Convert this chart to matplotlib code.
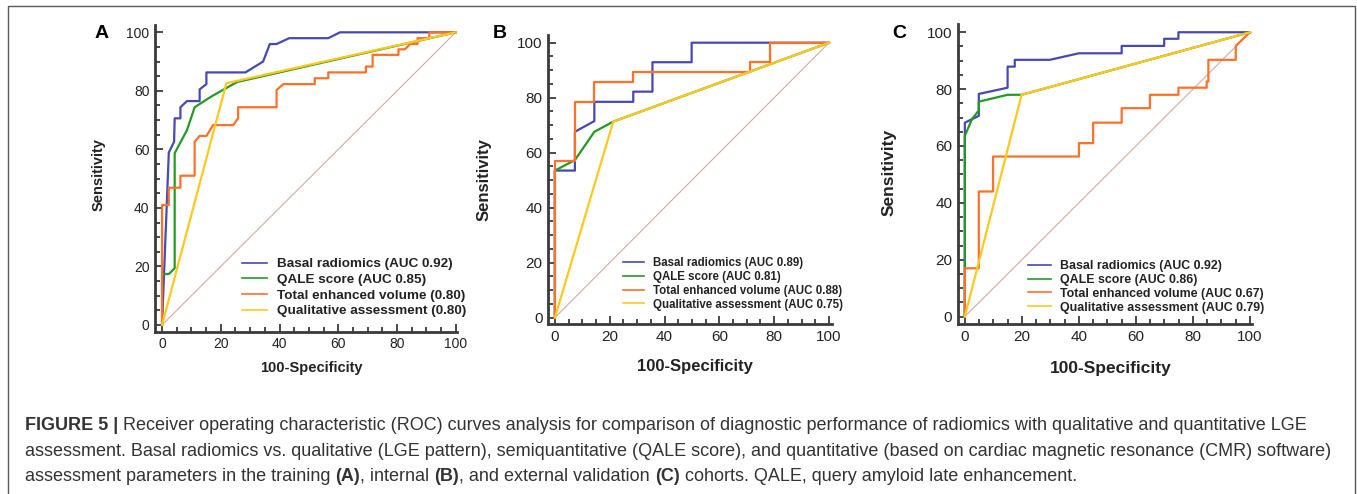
import matplotlib
matplotlib.use("Agg")
import matplotlib.pyplot as plt
from matplotlib.patches import Rectangle
from matplotlib.ticker import MultipleLocator

plt.rcParams['font.family'] = ['Liberation Sans', 'DejaVu Sans']

W, H = 1357, 494

# ---- data (100-specificity, sensitivity) ----
a_basal_x = [0, 2.3, 4.1, 4.3, 6.25, 6.25, 8.5, 12.8, 12.8, 15.1, 15.1, 28.4, 34.4, 36.7, 39, 43.3, 56.6, 60.6, 100]
a_basal_y = [0, 58.9, 62.6, 70.6, 70.6, 74.4, 76.5, 76.5, 80.5, 82.3, 86.3, 86.3, 90, 96, 96, 98, 98, 100, 100]
a_qale_x = [0, 0, 2.3, 4.3, 4.3, 8.5, 11.1, 17, 25.5, 100]
a_qale_y = [0, 17.4, 17.4, 19.4, 58.7, 66.6, 74.4, 78.2, 83.0, 100]
a_tev_x = [0, 0, 2.3, 2.3, 6.25, 6.25, 11.1, 11.1, 12.8, 15.1, 17.4, 24.2, 25.9, 25.9, 39, 39, 41.3, 52, 52,
           56.6, 56.6, 69.4, 69.4, 71.7, 71.7, 80.5, 80.5, 82.7, 84.5, 87, 87, 91, 91, 100]
a_tev_y = [0, 41, 41, 46.9, 46.9, 51, 51, 62.6, 64.6, 64.6, 68.3, 68.3, 70.6, 74.4, 74.4, 80.3, 82.3, 82.3, 84.3,
           84.3, 86.3, 86.3, 88.3, 88.3, 92.3, 92.3, 94.2, 94.2, 96, 96, 98, 98, 100, 100]
a_qual_x = [0, 21.9, 100]
a_qual_y = [0, 82.6, 100]

b_basal_x = [0, 0, 7.3, 7.3, 14.4, 14.4, 28.6, 28.6, 35.6, 35.6, 49.9, 49.9, 100]
b_basal_y = [0, 53.5, 53.5, 67.6, 71.5, 78.5, 78.5, 82.2, 82.2, 92.9, 92.9, 100, 100]
b_qale_x = [0, 0, 7.3, 14.4, 21.3, 100]
b_qale_y = [0, 53.5, 57.3, 67.6, 71.3, 100]
b_tev_x = [0, 0, 7.3, 7.3, 14.4, 14.4, 28.6, 28.6, 71.2, 71.2, 78.5, 78.5, 100]
b_tev_y = [0, 57.1, 57.1, 78.5, 78.5, 85.7, 85.7, 89.3, 89.3, 92.9, 92.9, 100, 100]
b_qual_x = [0, 21.3, 100]
b_qual_y = [0, 71.3, 100]

c_basal_x = [0, 0, 4.9, 4.9, 15, 15, 17.5, 17.5, 29.8, 40, 55, 55, 69.9, 69.9, 74.9, 74.9, 100]
c_basal_y = [0, 68.2, 70.6, 78.3, 80.5, 87.9, 87.9, 90.3, 90.3, 92.6, 92.6, 95.2, 95.2, 97.7, 97.7, 100, 100]
c_qale_x = [0, 0, 2.5, 4.9, 4.9, 15, 19.9, 100]
c_qale_y = [0, 63.5, 69.5, 72.5, 75.6, 78, 78, 100]
c_tev_x = [0, 0, 4.9, 4.9, 9.9, 9.9, 40, 40, 45, 45, 55, 55, 64.9, 64.9, 74.9, 74.9, 84.8, 84.8, 85.4, 85.4,
           95, 95, 100]
c_tev_y = [0, 17, 17, 44, 44, 56.3, 56.3, 61, 61, 68.2, 68.2, 73.3, 73.3, 78, 78, 80.5, 80.5, 82.7, 82.7, 90.3,
           90.3, 95.2, 100]
c_qual_x = [0, 19.9, 100]
c_qual_y = [0, 78, 100]

labels_a = ["Basal radiomics (AUC 0.92)", "QALE score (AUC 0.85)",
            "Total enhanced volume (0.80)", "Qualitative assessment (0.80)"]
labels_b = ["Basal radiomics (AUC 0.89)", "QALE score (AUC 0.81)",
            "Total enhanced volume (AUC 0.88)", "Qualitative assessment (AUC 0.75)"]
labels_c = ["Basal radiomics (AUC 0.92)", "QALE score (AUC 0.86)",
            "Total enhanced volume (AUC 0.67)", "Qualitative assessment (AUC 0.79)"]

colors = ["#4848b4", "#249a24", "#ff7028", "#ffc81e"]
diag_color = "#d8a8a4"
spine_color = "#3a3a3a"


def fx(px):
    return px / W


def fy(py):
    return 1 - py / H


fig = plt.figure(figsize=(W / 100, H / 100), dpi=100)

# outer border
fig.patches.append(Rectangle((fx(8), -0.01), fx(1355) - fx(8), fy(6) + 0.01,
                             transform=fig.transFigure, fill=False,
                             edgecolor="#5a5a5a", linewidth=1.0))

panels = [
    dict(box=(155, 457.2, 331.7, 25), xlim=(-2.4, 100.5), ylim=(-2.3, 102.5),
         data=[(a_basal_x, a_basal_y), (a_qale_x, a_qale_y), (a_tev_x, a_tev_y), (a_qual_x, a_qual_y)],
         labels=labels_a, tick_fs=10, lab_fs=10.5, leg_fs=9.7, leg=(241.7, 258), leg_sp=0.24,
         letter=("A", 102, 33), ylab=(99, 175), xlab=(311, 368)),
    dict(box=(548.3, 831.7, 324, 35), xlim=(-2.4, 101), ylim=(-2.3, 102.8),
         data=[(b_basal_x, b_basal_y), (b_qale_x, b_qale_y), (b_tev_x, b_tev_y), (b_qual_x, b_qual_y)],
         labels=labels_b, tick_fs=11, lab_fs=12, leg_fs=8.3, leg=(622.7, 257), leg_sp=0.16,
         letter=("B", 500, 33), ylab=(484, 180), xlab=(695, 367)),
    dict(box=(957.7, 1252, 324, 24), xlim=(-2.5, 100.7), ylim=(-2.6, 102.9),
         data=[(c_basal_x, c_basal_y), (c_qale_x, c_qale_y), (c_tev_x, c_tev_y), (c_qual_x, c_qual_y)],
         labels=labels_c, tick_fs=11, lab_fs=12.5, leg_fs=8.9, leg=(1028, 260), leg_sp=0.15,
         letter=("C", 899, 33), ylab=(889, 172), xlab=(1111, 368)),
]

for p in panels:
    l, r, b, t = p["box"]
    ax = fig.add_axes([fx(l), fy(b), fx(r) - fx(l), fy(t) - fy(b)])
    ax.set_xlim(*p["xlim"])
    ax.set_ylim(*p["ylim"])
    ax.plot([0, 100], [0, 100], color=diag_color, linewidth=0.8, zorder=1)
    handles = []
    for (xs, ys), c, lab in zip(p["data"], colors, p["labels"]):
        ln, = ax.plot(xs, ys, color=c, linewidth=1.6, label=lab, zorder=2)
        handles.append(ln)
    for s in ["top", "right"]:
        ax.spines[s].set_visible(False)
    for s in ["left", "bottom"]:
        ax.spines[s].set_color(spine_color)
        ax.spines[s].set_linewidth(2.0)
    ax.set_xticks([0, 20, 40, 60, 80, 100])
    ax.set_yticks([0, 20, 40, 60, 80, 100])
    ax.xaxis.set_minor_locator(MultipleLocator(5))
    ax.yaxis.set_minor_locator(MultipleLocator(5))
    ax.tick_params(which="major", direction="in", length=5.5, width=1.3, color=spine_color,
                   labelsize=p["tick_fs"], labelcolor="#222222", pad=4)
    ax.tick_params(which="minor", direction="in", length=3.5, width=1.3, color=spine_color)
    ax.patch.set_alpha(0)

    leg = fig.legend(handles=handles, loc="upper left",
                     bbox_to_anchor=(fx(p["leg"][0]), fy(p["leg"][1])),
                     frameon=False, fontsize=p["leg_fs"], handlelength=1.85, handletextpad=0.75,
                     labelspacing=p["leg_sp"], borderpad=0, borderaxespad=0)
    for txt in leg.get_texts():
        txt.set_fontweight("bold")
        txt.set_color("#222222")
    for h in leg.legend_handles:
        h.set_linewidth(1.2)

    letter, lx, ly = p["letter"]
    fig.text(fx(lx), fy(ly), letter, fontsize=14, fontweight="bold", ha="center", va="center")
    fig.text(fx(p["ylab"][0]), fy(p["ylab"][1]), "Sensitivity", rotation=90, fontsize=p["lab_fs"],
             fontweight="bold", ha="center", va="center", color="#222222")
    fig.text(fx(p["xlab"][0]), fy(p["xlab"][1]), "100-Specificity", fontsize=p["lab_fs"],
             fontweight="bold", ha="center", va="center", color="#222222")

# caption
caption = [
    [("FIGURE 5 | ", "bold"),
     ("Receiver operating characteristic (ROC) curves analysis for comparison of diagnostic performance "
      "of radiomics with qualitative and quantitative LGE", "normal")],
    [("assessment. Basal radiomics vs. qualitative (LGE pattern), semiquantitative (QALE score), and "
      "quantitative (based on cardiac magnetic resonance (CMR) software)", "normal")],
    [("assessment parameters in the training ", "normal"), ("(A)", "bold"), (", internal ", "normal"),
     ("(B)", "bold"), (", and external validation ", "normal"), ("(C)", "bold"),
     (" cohorts. QALE, query amyloid late enhancement.", "normal")],
]
cap_y = [425, 451, 476]
renderer = fig.canvas.get_renderer()
for parts, yy in zip(caption, cap_y):
    x = fx(25)
    for s, w in parts:
        t = fig.text(x, fy(yy), s, fontsize=13, fontweight=w, color="#333333", va="center", ha="left")
        bb = t.get_window_extent(renderer=renderer)
        x += bb.width / (W)

fig.savefig("out.png", dpi=100)
